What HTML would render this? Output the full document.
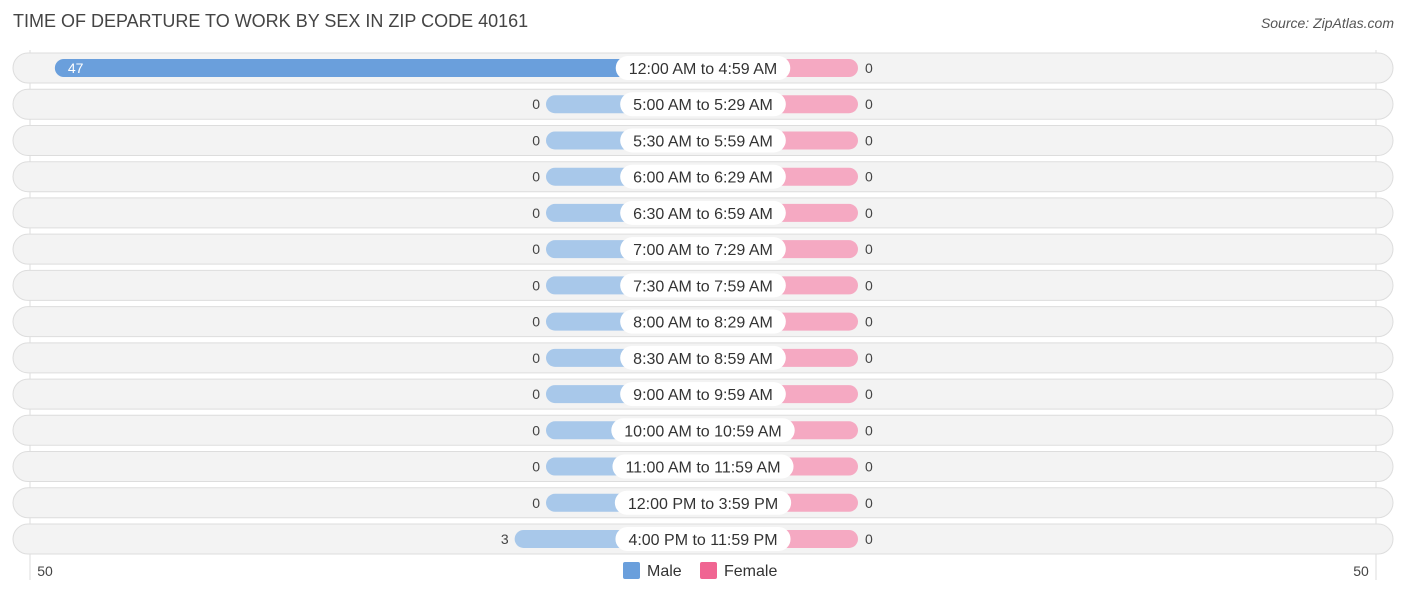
<!DOCTYPE html>
<html><head><meta charset="utf-8"><style>
body{margin:0;width:1406px;height:595px;background:#fff;font-family:"Liberation Sans",sans-serif;overflow:hidden;position:relative}
#title{position:absolute;left:13px;top:11px;font-size:18px;color:#444}
#src{position:absolute;right:12px;top:15px;font-size:14px;font-style:italic;color:#555}
</style></head><body>
<div id="title">TIME OF DEPARTURE TO WORK BY SEX IN ZIP CODE 40161</div>
<div id="src">Source: ZipAtlas.com</div>
<svg id="chart" width="1406" height="595" style="position:absolute;left:0;top:0"></svg>
<script>
const categories=["12:00 AM to 4:59 AM","5:00 AM to 5:29 AM","5:30 AM to 5:59 AM","6:00 AM to 6:29 AM","6:30 AM to 6:59 AM","7:00 AM to 7:29 AM","7:30 AM to 7:59 AM","8:00 AM to 8:29 AM","8:30 AM to 8:59 AM","9:00 AM to 9:59 AM","10:00 AM to 10:59 AM","11:00 AM to 11:59 AM","12:00 PM to 3:59 PM","4:00 PM to 11:59 PM"];
const maleValues=[47,0,0,0,0,0,0,0,0,0,0,0,0,3];
const femaleValues=[0,0,0,0,0,0,0,0,0,0,0,0,0,0];
const axisTicks=["50","50"];
const svg=document.getElementById('chart');
const NS="http://www.w3.org/2000/svg";
const cx=703,stub=157,scale=10.45;
function xLen(v){return stub+v*scale;}
function yRow(i){return 68+i*36.23;}
function mk(t,a,parent){const e=document.createElementNS(NS,t);for(const k in a)e.setAttribute(k,a[k]);(parent||svg).appendChild(e);return e;}
let g1=mk('line',{x1:30,x2:30,y1:50,y2:580,stroke:'#ddd'});


let g2=mk('line',{x1:1376,x2:1376,y1:50,y2:580,stroke:'#ddd'});


categories.forEach((c,i)=>{
 const y=yRow(i);
 const g=mk('g',{});
 
 
 const bg=mk('rect',{x:13,y:y-15,width:1380,height:30,rx:15,fill:'#f3f3f3',stroke:'#ddd'},g);
 
 
 const mv=maleValues[i],fv=femaleValues[i];
 const mw=xLen(mv);
 const mb=mk('rect',{x:cx-mw,y:y-9,width:mw,height:18,rx:9,fill:mv>20?'#6a9fdc':'#a8c8ea'},g);
 
 
 const fw=xLen(fv)-2;
 const fb=mk('rect',{x:cx,y:y-9,width:fw,height:18,rx:9,fill:'#f5a9c2'},g);
 
 
 let mt;
 if(mv>20){mt=mk('text',{x:cx-mw+13,y:y+5,'font-size':14,fill:'#fff'},g);}
 else{mt=mk('text',{x:cx-mw-6,y:y+5,'font-size':14,fill:'#444','text-anchor':'end'},g);}
 mt.textContent=mv;
 
 
 const ft=mk('text',{x:cx+fw+7,y:y+5,'font-size':14,fill:'#444'},g);
 ft.textContent=fv;
 
 
 const lt=mk('text',{x:cx,y:y+6,'font-size':16,fill:'#333','text-anchor':'middle'},g);
 lt.textContent=c;
 const w=lt.getComputedTextLength()+26;
 const lp=mk('rect',{x:cx-w/2,y:y-12,width:w,height:24,rx:12,fill:'#fff'},g);
 g.insertBefore(lp,lt);
 
 
 
 
});
const t1=mk('text',{x:45,y:576,'font-size':14,fill:'#444','text-anchor':'middle'});t1.textContent=axisTicks[0];


const t2=mk('text',{x:1361,y:576,'font-size':14,fill:'#444','text-anchor':'middle'});t2.textContent=axisTicks[1];


const l1=mk('rect',{x:623,y:562,width:17,height:17,rx:2,fill:'#6a9fdc'});


const lt1=mk('text',{x:647,y:576,'font-size':16,fill:'#333'});lt1.textContent='Male';


const l2=mk('rect',{x:700,y:562,width:17,height:17,rx:2,fill:'#f06592'});


const lt2=mk('text',{x:724,y:576,'font-size':16,fill:'#333'});lt2.textContent='Female';


</script>
</body></html>
